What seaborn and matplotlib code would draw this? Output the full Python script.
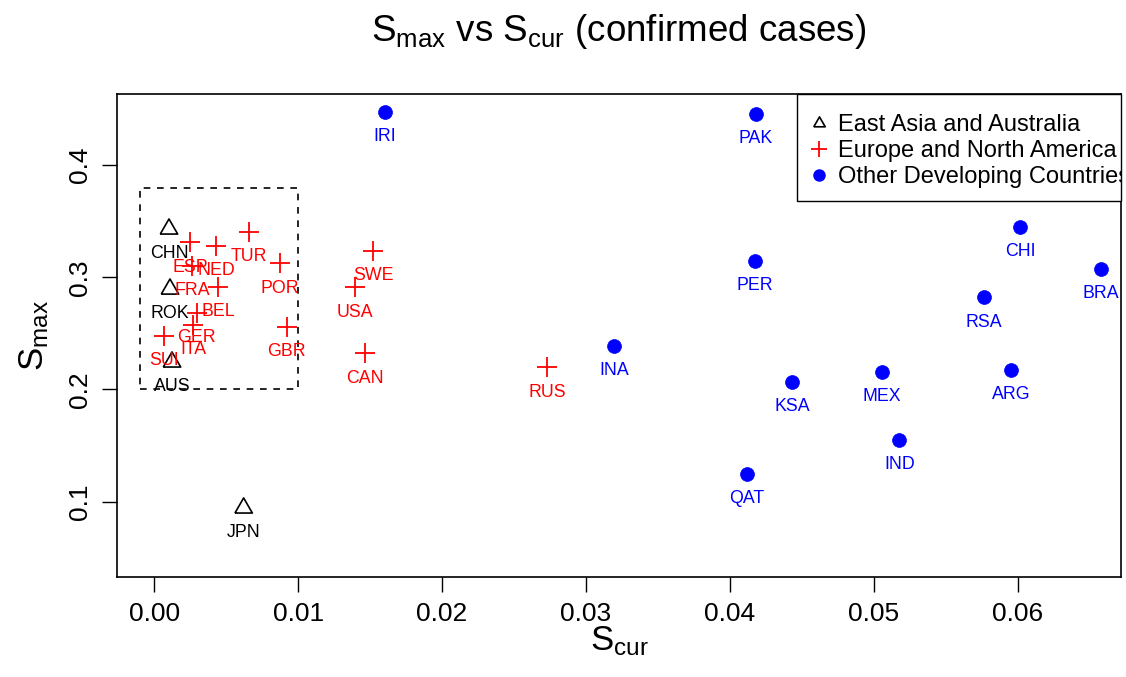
import numpy as np
import pandas as pd
import matplotlib
matplotlib.use("Agg")
import matplotlib.pyplot as plt
from matplotlib.lines import Line2D
from matplotlib.patches import Rectangle
import seaborn as sns

# --- data ---
asia_codes = ["CHN", "ROK", "AUS", "JPN"]
asia_scur = [0.00102, 0.00109, 0.00123, 0.00621]
asia_smax = [0.343, 0.2895, 0.2245, 0.0944]

europe_codes = ["ESP", "NED", "FRA", "TUR", "POR", "BEL", "GER", "ITA", "GBR",
                "SUI", "SWE", "USA", "CAN", "RUS"]
europe_scur = [0.00248, 0.00429, 0.00262, 0.0066, 0.00874, 0.00443, 0.00295,
               0.00271, 0.0092, 0.00067, 0.01522, 0.01397, 0.01467, 0.02732]
europe_smax = [0.331, 0.328, 0.310, 0.3406, 0.3124, 0.2916, 0.2679,
               0.2574, 0.2559, 0.2476, 0.3236, 0.291, 0.2322, 0.2197]

other_codes = ["IRI", "PAK", "INA", "PER", "CHI", "BRA", "RSA", "ARG", "MEX",
               "KSA", "IND", "QAT"]
other_scur = [0.0160, 0.0418, 0.03197, 0.04175, 0.06017, 0.06582, 0.05767,
              0.05957, 0.05058, 0.04435, 0.05178, 0.04118]
other_smax = [0.447, 0.4457, 0.2387, 0.3145, 0.345, 0.3071, 0.2821,
              0.2176, 0.2156, 0.2064, 0.155, 0.1248]

group_names = ["East Asia and Australia", "Europe and North America",
               "Other Developing Countries"]

# highlighted region (dashed box)
box_scur = (-0.001, 0.010)
box_smax = (0.200, 0.380)

x_ticks = [0.00, 0.01, 0.02, 0.03, 0.04, 0.05, 0.06]
y_ticks = [0.1, 0.2, 0.3, 0.4]

df = pd.concat([
    pd.DataFrame({"code": asia_codes, "scur": asia_scur, "smax": asia_smax, "group": group_names[0]}),
    pd.DataFrame({"code": europe_codes, "scur": europe_scur, "smax": europe_smax, "group": group_names[1]}),
    pd.DataFrame({"code": other_codes, "scur": other_scur, "smax": other_smax, "group": group_names[2]}),
], ignore_index=True)

sns.set_theme(style="white")
plt.rcParams["font.family"] = ["Liberation Sans", "DejaVu Sans"]
plt.rcParams["mathtext.fontset"] = "custom"
plt.rcParams["mathtext.rm"] = "Liberation Sans"
plt.rcParams["mathtext.it"] = "Liberation Sans"
plt.rcParams["text.color"] = "black"
plt.rcParams["axes.labelcolor"] = "black"
plt.rcParams["xtick.color"] = "black"
plt.rcParams["ytick.color"] = "black"

fig = plt.figure(figsize=(11.26, 6.77), dpi=100)
ax = fig.add_axes([0.1039, 0.1477, 0.8917, 0.7134])

# equilateral open triangle like R's pch = 2
tri = [(-0.866, -0.5), (0.866, -0.5), (0.0, 1.0), (-0.866, -0.5)]

colors = {group_names[0]: "black", group_names[1]: "red", group_names[2]: "blue"}

sns.scatterplot(data=df[df.group == group_names[0]], x="scur", y="smax", ax=ax,
                marker=tri, s=210, facecolor="none", edgecolor="black",
                linewidth=1.2, color="black", legend=False, zorder=3)
sns.scatterplot(data=df[df.group == group_names[1]], x="scur", y="smax", ax=ax,
                marker="+", s=190, color="red", linewidth=1.3,
                legend=False, zorder=3)
sns.scatterplot(data=df[df.group == group_names[2]], x="scur", y="smax", ax=ax,
                marker="o", s=100, color="blue", edgecolor="blue",
                linewidth=0.5, legend=False, zorder=3)

for _, row in df.iterrows():
    ax.annotate(row["code"], (row["scur"], row["smax"]), xytext=(0, -21),
                textcoords="offset points", ha="center", va="baseline",
                fontsize=12.8, color=colors[row["group"]], zorder=4)

ax.add_patch(Rectangle((box_scur[0], box_smax[0]), box_scur[1] - box_scur[0],
                       box_smax[1] - box_smax[0], fill=False, edgecolor="black",
                       linewidth=1.2, linestyle=(0, (4, 4)), zorder=2))

ax.set_xlim(-0.002593, 0.067193)
ax.set_ylim(0.0329, 0.4633)
ax.set_xticks(x_ticks)
ax.set_xticklabels([f"{v:.2f}" for v in x_ticks])
ax.set_yticks(y_ticks)
ax.set_yticklabels([f"{v:.1f}" for v in y_ticks], rotation=90, va="center")
ax.tick_params(axis="both", direction="out", length=11, width=1.0, pad=7,
               labelsize=19, colors="black", bottom=True, left=True)
for sp in ax.spines.values():
    sp.set_color("black")
    sp.set_linewidth(1.2)

ax.set_xlabel(r"$\mathregular{S_{cur}}$", fontsize=25, labelpad=-1)
ax.set_ylabel(r"$\mathregular{S_{max}}$", fontsize=25, labelpad=12)
ax.set_title(r"$\mathregular{S_{max}}$ vs $\mathregular{S_{cur}}$ (confirmed cases)",
             fontsize=26.5, pad=38)

# legend: frame drawn as a box tied to the top-right corner, text may run past it
ax.add_patch(Rectangle((0.6773, 0.7785), 0.3227, 0.2215, transform=ax.transAxes,
                       fill=True, facecolor="white", edgecolor="black",
                       linewidth=1.0, zorder=5, clip_on=False))
handles = [
    Line2D([], [], marker=tri, linestyle="none", markerfacecolor="none",
           markeredgecolor="black", markersize=9.5, markeredgewidth=1.2),
    Line2D([], [], marker="+", linestyle="none", color="red",
           markersize=12, markeredgewidth=1.3),
    Line2D([], [], marker="o", linestyle="none", color="blue", markersize=8),
]
leg = ax.legend(handles, group_names, loc="upper left",
                bbox_to_anchor=(0.6873, 0.958), borderaxespad=0, borderpad=0,
                fontsize=17, frameon=False, handlelength=1.0,
                handletextpad=0.3, labelspacing=0.16)
leg.set_zorder(6)
for t in leg.get_texts():
    t.set_clip_box(ax.bbox)
    t.set_clip_on(True)

fig.savefig("out.png", dpi=100)
